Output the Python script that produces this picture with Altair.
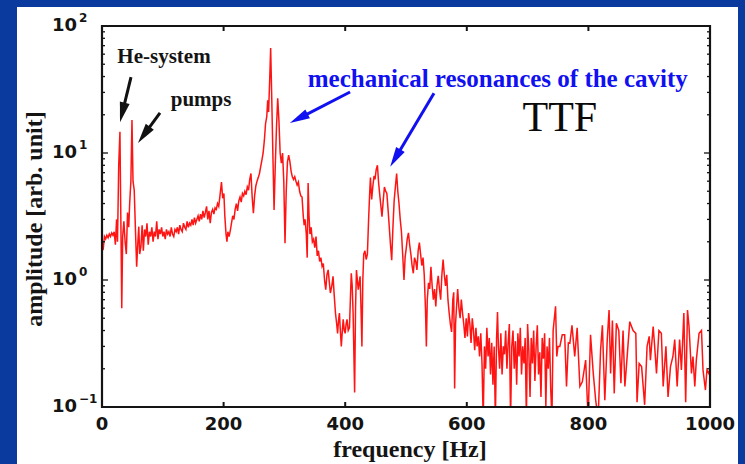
import math
import altair as alt
import pandas as pd

# ---- spectrum: frequency [Hz] and amplitude [arb. unit] ----
freq = [
    0, 2, 4, 6, 8, 10, 12, 14, 16, 18, 20, 22, 24, 25.5, 27.5, 29.5, 31, 32.5, 34, 36,
    38, 40, 42, 44, 45.5, 47.5, 49.3, 51, 53, 55, 57, 59, 60.5, 62, 64, 66, 68, 70, 72, 74,
    76, 78, 80, 82, 84, 86, 88, 90, 92, 94, 96, 98, 100, 102, 104, 106, 108, 110, 112, 114,
    116, 118, 120, 122, 124, 126, 128, 130, 132, 134, 136, 138, 140, 142, 144, 146, 148, 150, 152, 154,
    156, 158, 160, 162, 164, 166, 168, 170, 172, 174, 176, 178, 180, 182, 184, 186, 188, 190, 192, 194,
    196.5, 198.5, 200.5, 202, 204, 205.5, 207, 209, 211, 213, 215, 217, 219, 221, 223, 225, 227, 229, 231, 233,
    235, 237, 239, 241, 243, 245, 247, 249, 251, 253, 255, 257, 259, 261, 263, 265, 267, 269, 271, 272.5,
    274, 276, 277.4, 279, 281, 283, 285, 287, 289, 291, 293, 295, 297, 299, 301, 303, 305, 307, 309, 311,
    313, 315, 317, 319, 321, 323, 325, 327, 329, 331, 332.5, 334, 336, 337.5, 339, 340.5, 342, 344, 346, 348,
    350, 352, 354, 356, 358, 360, 362, 364, 366, 368, 370, 372, 374, 375.6, 378, 380, 382, 384, 386, 387.5,
    389, 390.5, 392, 393.6, 395, 396.7, 398.5, 400, 401.5, 403, 405, 407, 408.5, 410, 411.5, 413, 415.5, 417, 418.5, 420,
    421.5, 423, 424.5, 426, 427.5, 429, 430.5, 432.5, 434.5, 436.5, 438.5, 440, 441.5, 443.5, 445.5, 447.5, 449, 451, 453, 455,
    457, 459, 460.5, 462.5, 464.5, 466.5, 468.5, 470.5, 472.5, 474.5, 476.5, 478.5, 480.5, 482.5, 484.6, 486.5, 488.5, 490.5, 492.5, 494.5,
    496.7, 498.5, 500.5, 502, 504, 506, 508, 510, 512, 514, 516, 518, 520, 522, 524, 526, 528, 530, 532, 533.5,
    535, 537, 539, 541, 543, 545, 547, 549, 551, 553, 555, 557, 559, 561, 563, 565, 567, 569, 571, 573,
    575, 577, 578.5, 580, 581.5, 583, 585, 587, 589, 591, 593, 595, 597, 599, 601, 603, 605, 607, 609, 611,
    613, 615, 617, 619, 621, 623, 625, 627, 629, 631, 633, 635, 637, 639, 641, 643, 645, 647, 649, 650.5,
    652, 654, 656, 658, 660, 662, 664, 666, 668, 670, 672, 674, 676, 678, 680, 682, 684, 686, 688, 690,
    692, 694, 696, 698, 700, 702, 704, 706, 708, 710, 712, 714, 716, 718, 720, 722, 724, 726, 728, 730,
    732, 734, 736, 738, 740, 742, 744, 746, 748, 750, 753, 757, 761, 764, 767, 769.5, 773, 777.5, 781.5, 786,
    790, 795.5, 799.5, 803.5, 808, 812, 816, 820, 823, 827, 831, 834, 836.5, 839.5, 842.5, 846, 850, 853.5, 857, 860,
    862.5, 868, 873.5, 878, 880, 883.5, 887.5, 892.5, 896.5, 900, 902, 906.5, 909, 912, 916, 920, 923, 927.5, 931, 935,
    939, 942, 946, 950, 953, 957, 960, 963, 965.5, 969.5, 972, 975, 977.5, 982, 986, 988.5, 992.5, 995, 998, 1000,
]
amp = [
    1.7, 1.75, 2.2, 2.1, 2.25, 2.15, 2.3, 2.2, 2.35, 2.25, 2.4, 1.9, 3.0, 2.0, 8.0, 14.7, 3.0, 0.6, 2.2, 2.9,
    2.0, 1.6, 3.4, 2.6, 4.0, 6.0, 18.2, 6.0, 5.1, 2.5, 1.27, 2.0, 2.63, 1.6, 1.83, 2.7, 1.7, 2.5, 2.2, 2.8,
    1.9, 2.4, 2.2, 2.6, 2.0, 2.4, 2.2, 2.9, 2.1, 2.5, 2.3, 2.6, 2.2, 2.4, 2.1, 2.5, 2.3, 2.4, 2.2, 2.6,
    2.3, 2.2, 2.5, 2.4, 2.6, 2.3, 2.7, 2.5, 2.4, 2.8, 2.6, 2.5, 2.9, 2.6, 2.8, 2.7, 3.0, 2.7, 3.1, 2.8,
    3.0, 3.2, 2.9, 3.3, 3.0, 3.5, 3.1, 3.4, 3.8, 3.0, 3.5, 2.8, 3.4, 3.6, 3.3, 3.7, 3.6, 4.0, 3.8, 4.6,
    5.9, 4.4, 4.8, 3.2, 2.3, 2.0, 2.4, 2.2, 2.45, 2.8, 3.2, 3.0, 3.6, 4.0, 3.5, 4.2, 4.5, 4.1, 4.8, 4.6,
    5.0, 4.7, 5.4, 5.1, 6.2, 6.9, 4.5, 3.35, 4.6, 5.5, 6.0, 6.4, 6.9, 7.8, 8.8, 10, 12.5, 17, 19.3, 26,
    21, 40, 67, 30, 10, 3.56, 8, 16, 27, 18, 10, 8.3, 10, 6, 1.95, 5, 8.5, 9.6, 8.6, 7.2,
    6.5, 6.2, 6.5, 6.0, 5.6, 5.9, 5.0, 4.6, 4.5, 3.2, 2.7, 3.0, 2.3, 1.5, 5.8, 3.2, 2.3, 2.6, 2.0, 2.1,
    1.8, 2.2, 1.55, 1.7, 1.4, 1.5, 1.28, 1.35, 1.0, 0.84, 1.1, 1.2, 0.95, 0.79, 0.9, 1.07, 0.75, 0.55, 0.45, 0.38,
    0.48, 0.55, 0.4, 0.3, 0.38, 0.49, 0.4, 0.38, 0.45, 0.49, 0.4, 0.42, 0.7, 1.13, 0.9, 0.55, 0.13, 0.6, 1.2, 1.0,
    0.84, 0.95, 1.07, 0.6, 0.3, 1.0, 1.6, 1.7, 1.45, 1.6, 3.0, 4.5, 6.4, 4.3, 5.5, 6.6, 6.2, 7.4, 8.0, 5.8,
    4.6, 3.7, 3.15, 4.2, 5.4, 5.0, 4.8, 3.6, 2.6, 1.9, 1.43, 2.6, 4.2, 5.4, 6.9, 5.0, 4.0, 3.0, 2.4, 1.6,
    1.0, 1.5, 1.8, 2.1, 2.35, 1.9, 1.6, 1.3, 1.13, 1.5, 1.4, 1.2, 1.7, 1.97, 1.6, 1.3, 1.5, 1.1, 0.6, 0.3,
    0.7, 0.95, 0.85, 1.27, 0.9, 0.7, 0.85, 0.62, 0.9, 1.08, 0.85, 0.7, 1.1, 1.45, 1.1, 0.9, 1.1, 0.7, 0.55, 0.45,
    0.39, 0.7, 0.8, 0.14, 0.45, 0.6, 0.85, 0.6, 0.5, 0.7, 0.55, 0.45, 0.35, 0.5, 0.36, 0.55, 0.45, 0.32, 0.5, 0.4,
    0.28, 0.42, 0.3, 0.36, 0.25, 0.38, 0.22, 0.08, 0.3, 0.2, 0.42, 0.25, 0.35, 0.18, 0.32, 0.15, 0.3, 0.08, 0.35, 0.56,
    0.3, 0.2, 0.38, 0.18, 0.3, 0.26, 0.4, 0.2, 0.32, 0.45, 0.08, 0.3, 0.4, 0.2, 0.33, 0.15, 0.38, 0.25, 0.42, 0.18,
    0.3, 0.22, 0.35, 0.08, 0.45, 0.28, 0.12, 0.35, 0.22, 0.4, 0.16, 0.3, 0.44, 0.18, 0.27, 0.12, 0.35, 0.24, 0.38, 0.1,
    0.3, 0.2, 0.35, 0.14, 0.08, 0.4, 0.5, 0.62, 0.25, 0.3, 0.3, 0.37, 0.37, 0.145, 0.32, 0.317, 0.44, 0.25, 0.42, 0.145,
    0.158, 0.234, 0.08, 0.37, 0.184, 0.113, 0.08, 0.28, 0.44, 0.113, 0.34, 0.58, 0.184, 0.48, 0.128, 0.456, 0.40, 0.154, 0.40, 0.145,
    0.208, 0.47, 0.40, 0.38, 0.109, 0.22, 0.208, 0.104, 0.30, 0.36, 0.234, 0.43, 0.30, 0.184, 0.40, 0.38, 0.145, 0.30, 0.12, 0.208,
    0.25, 0.34, 0.145, 0.34, 0.196, 0.55, 0.109, 0.58, 0.43, 0.184, 0.25, 0.145, 0.234, 0.38, 0.40, 0.196, 0.136, 0.196, 0.184, 0.2,
]

# ---- axes ----
x_ticks = [0, 200, 400, 600, 800, 1000]
y_decades = [0.1, 1, 10, 100]
y_exponents = ["\u22121", "0", "1", "2"]
x_title = "frequency [Hz]"
y_title = "amplitude [arb. unit]"

# ---- annotations (positions in data units: frequency, amplitude) ----
labels = ["He-system", "pumps", "mechanical resonances of the cavity", "TTF"]
label_f = [102, 163, 651, 753]
label_a = [57, 26, 38, 18.9]

arrow_start_f = [47.7, 95.4, 408, 546]
arrow_start_a = [39.6, 20.7, 30.2, 29.6]
arrow_tip_f = [29.6, 59.2, 309, 474]
arrow_tip_a = [17.5, 12.0, 17.2, 7.8]
arrow_color = ["#111111", "#111111", "#1010f0", "#1010f0"]

# ---- plot geometry ----
W, H = 608, 381
F_MAX = 1000
A_LO, A_HI = 0.1, 100
BLUE_BG = "#0b3a9e"
RED = "#ff1414"
INK = "#141414"
SANS = "DejaVu Sans"
SERIF = "Liberation Serif"


def to_px(f, a):
    x = f / F_MAX * W
    y = H * (math.log10(A_HI) - math.log10(a)) / (math.log10(A_HI) - math.log10(A_LO))
    return x, y


def from_px(x, y):
    f = x / W * F_MAX
    a = 10 ** (math.log10(A_HI) - y / H * (math.log10(A_HI) - math.log10(A_LO)))
    return f, a


x_scale = alt.Scale(domain=[0, F_MAX], nice=False, zero=False)
y_scale = alt.Scale(type="log", domain=[A_LO, A_HI], nice=False)


def X(field):
    return alt.X(field, scale=x_scale, axis=None)


def Y(field):
    return alt.Y(field, scale=y_scale, axis=None)


one_row = alt.Data(values=[{}])
spec = pd.DataFrame({"f": freq, "a": amp})

# white slide panel behind the figure
panel = alt.Chart(one_row).mark_rect(fill="white").encode(
    x=alt.value(-85), x2=alt.value(636), y=alt.value(-19), y2=alt.value(470)
)

line = alt.Chart(spec).mark_line(color=RED, strokeWidth=1.5, clip=True).encode(
    x=X("f:Q"), y=Y("a:Q")
)

# inward minor/major ticks on the log axis (left and right)
minor = pd.DataFrame({"v": [d * m for d in y_decades[:-1] for m in range(2, 10)]})
major = pd.DataFrame({"v": y_decades})
xt = pd.DataFrame({"v": x_ticks[1:-1]})


def yticks(df, length):
    left = alt.Chart(df).mark_rule(color=INK, strokeWidth=1.3).encode(
        y=Y("v:Q"), x=alt.value(0), x2=alt.value(length)
    )
    right = alt.Chart(df).mark_rule(color=INK, strokeWidth=1.3).encode(
        y=Y("v:Q"), x=alt.value(W - length), x2=alt.value(W)
    )
    return left + right


xticks = alt.Chart(xt).mark_rule(color=INK, strokeWidth=2).encode(
    x=X("v:Q"), y=alt.value(H - 5), y2=alt.value(H)
) + alt.Chart(xt).mark_rule(color=INK, strokeWidth=2).encode(
    x=X("v:Q"), y=alt.value(0), y2=alt.value(5)
)

frame = alt.Chart(one_row).mark_rect(
    fill="transparent", stroke=INK, strokeWidth=2.2
).encode(x=alt.value(0), x2=alt.value(W), y=alt.value(0), y2=alt.value(H))

# x tick labels
xlab = alt.Chart(pd.DataFrame({"v": x_ticks})).mark_text(
    font=SANS, fontWeight="bold", fontSize=18, color=INK, align="center", baseline="middle"
).encode(x=X("v:Q"), y=alt.value(H + 18), text=alt.Text("v:Q", format="d"))

# y tick labels written as 10 with a raised exponent
ylab = pd.DataFrame({"v": y_decades, "e": y_exponents})
ybase = alt.Chart(ylab).mark_text(
    font=SANS, fontWeight="bold", fontSize=18, color=INK, align="right", baseline="middle"
).encode(y=Y("v:Q"), x=alt.value(-25), text=alt.value("10"))
yexp = alt.Chart(ylab).mark_text(
    font=SANS, fontWeight="bold", fontSize=12, color=INK, align="left", baseline="middle", dy=-8
).encode(y=Y("v:Q"), x=alt.value(-23), text="e:N")

# axis titles
xtitle = alt.Chart(one_row).mark_text(
    font=SERIF, fontWeight="bold", fontSize=24, color=INK, align="center", baseline="middle"
).encode(x=alt.value(W / 2 + 4), y=alt.value(H + 43), text=alt.value(x_title))
ytitle = alt.Chart(one_row).mark_text(
    font=SERIF, fontWeight="bold", fontSize=24, color=INK, align="center", baseline="middle",
    angle=270,
).encode(x=alt.value(-67), y=alt.value(193), text=alt.value(y_title))

# annotation texts
ann_style = [
    dict(font=SERIF, fontWeight="bold", fontSize=21, color=INK),
    dict(font=SERIF, fontWeight="bold", fontSize=21, color=INK),
    dict(font=SERIF, fontWeight="bold", fontSize=25, color="#1010f0"),
    dict(font=SERIF, fontWeight="normal", fontSize=42, color="#0a0a0a"),
]
texts = []
for i, lab in enumerate(labels):
    d = pd.DataFrame({"f": [label_f[i]], "a": [label_a[i]], "t": [lab]})
    texts.append(
        alt.Chart(d).mark_text(align="center", baseline="middle", **ann_style[i]).encode(
            x=X("f:Q"), y=Y("a:Q"), text="t:N"
        )
    )

# arrows: shaft + triangular head pointing at the tip
HEAD = 20
shafts, heads = [], []
for i in range(len(arrow_start_f)):
    sx, sy = to_px(arrow_start_f[i], arrow_start_a[i])
    tx, ty = to_px(arrow_tip_f[i], arrow_tip_a[i])
    dx, dy = tx - sx, ty - sy
    n = math.hypot(dx, dy)
    ux, uy = dx / n, dy / n
    ef, ea = from_px(tx - ux * HEAD * 0.7, ty - uy * HEAD * 0.7)
    cf, ca = from_px(tx - ux * HEAD / 2, ty - uy * HEAD / 2)
    ang = math.degrees(math.atan2(ux, -uy)) % 360
    shafts.append(dict(f=arrow_start_f[i], a=arrow_start_a[i], f2=ef, a2=ea, c=arrow_color[i]))
    heads.append(dict(f=cf, a=ca, ang=ang, c=arrow_color[i]))

shaft_layer = alt.Chart(pd.DataFrame(shafts)).mark_rule(strokeWidth=3).encode(
    x=X("f:Q"), y=Y("a:Q"), x2="f2:Q", y2="a2:Q", color=alt.Color("c:N", scale=None)
)
head_layer = alt.Chart(pd.DataFrame(heads)).mark_point(
    shape="M0,-1L0.5,1L-0.5,1Z", filled=True, opacity=1, size=HEAD * HEAD, strokeWidth=0
).encode(
    x=X("f:Q"),
    y=Y("a:Q"),
    angle=alt.Angle("ang:Q", scale=None),
    color=alt.Color("c:N", scale=None),
)

chart = alt.layer(
    panel,
    line,
    yticks(minor, 3),
    yticks(major, 6),
    xticks,
    frame,
    xlab,
    ybase,
    yexp,
    xtitle,
    ytitle,
    *texts,
    shaft_layer,
    head_layer,
).properties(
    width=W,
    height=H,
    background=BLUE_BG,
    padding={"left": 102, "top": 26, "right": 35, "bottom": 57},
    autosize=alt.AutoSizeParams(type="none"),
).configure_view(stroke="transparent")

chart.save("out.html", embed_options={"renderer": "svg", "actions": False})
